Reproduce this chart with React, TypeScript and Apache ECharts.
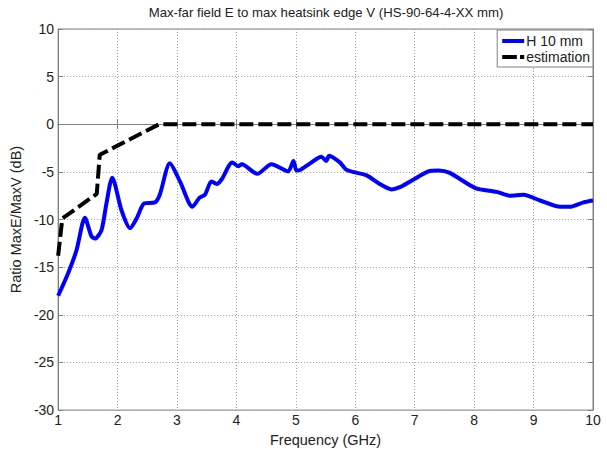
import React, { useEffect, useRef } from "react";
import * as echarts from "echarts";

const titleText = "Max-far field E to max heatsink edge V (HS-90-64-4-XX mm)";
const xName = "Frequency (GHz)";
const yName = "Ratio MaxE/MaxV (dB)";
const seriesNames = ["H 10 mm", "estimation"];

const hFreq = [1, 1.17, 1.31, 1.45, 1.56, 1.62, 1.73, 1.81, 1.91, 2.07, 2.21, 2.32, 2.45, 2.63, 2.71, 2.88, 3.05, 3.26, 3.38, 3.47, 3.58, 3.67, 3.75, 3.93, 4.03, 4.09, 4.35, 4.59, 4.87, 4.96, 5.01, 5.07, 5.24, 5.43, 5.51, 5.56, 5.74, 5.86, 6.19, 6.42, 6.61, 6.75, 6.98, 7.23, 7.4, 7.59, 8.02, 8.38, 8.6, 8.83, 9.11, 9.45, 9.61, 9.84, 10];
const hValues = [-18, -15.6, -13.2, -9.8, -11.75, -12.0, -11.1, -8.4, -5.6, -9.1, -10.9, -9.9, -8.3, -8.2, -7.4, -4.1, -6.0, -8.66, -7.7, -7.4, -6.0, -6.26, -5.8, -4.0, -4.4, -4.2, -5.2, -4.2, -4.95, -3.85, -4.85, -4.8, -4.1, -3.4, -3.85, -3.3, -4.0, -4.8, -5.36, -6.3, -6.84, -6.6, -5.8, -4.95, -4.85, -5.1, -6.7, -7.1, -7.5, -7.4, -8.0, -8.66, -8.66, -8.2, -8.0];

const estFreq = [1, 1.07, 1.65, 1.7, 2.7, 10];
const estValues = [-13.8, -9.9, -7.3, -3.2, 0, 0];

const xTicks = [1, 2, 3, 4, 5, 6, 7, 8, 9, 10];
const yTicks = [-30, -25, -20, -15, -10, -5, 0, 5, 10];

const FONT = "'Liberation Sans', Arial, sans-serif";
const frame = "#808080";
const gridC = "#a0a0a0";
const textC = "#222222";

export default function App() {
  const ref = useRef<HTMLDivElement>(null);
  useEffect(() => {
    if (!ref.current) return;
    const chart = echarts.init(ref.current, undefined, { renderer: "svg" });
    const axisCommon = {
      type: "value" as const,
      axisLine: { show: true, lineStyle: { color: frame, width: 1 } },
      axisTick: { show: true, inside: true, length: 5, lineStyle: { color: frame } },
    };
    chart.setOption({
      animation: false,
      backgroundColor: "#ffffff",
      textStyle: { fontFamily: FONT },
      graphic: [
        {
          type: "text",
          x: 326,
          y: 12,
          style: {
            text: titleText,
            fontFamily: FONT,
            fontSize: 13.2,
            fill: textC,
            textAlign: "center",
            textVerticalAlign: "middle",
          },
        },
      ],
      grid: { left: 58, right: 14, top: 29, bottom: 36, show: true, borderColor: frame, borderWidth: 1 },
      legend: {
        top: 30,
        right: 14,
        orient: "vertical",
        backgroundColor: "#fff",
        borderColor: frame,
        borderWidth: 1,
        borderRadius: 0,
        padding: [4, 3, 3, 5],
        itemGap: 2,
        itemWidth: 22,
        itemHeight: 13,
        textStyle: { fontFamily: FONT, fontSize: 14, color: textC, padding: [0, 0, 0, -3] },
        data: [
          { name: seriesNames[0], icon: "path://M0,0h22v4h-22z", itemStyle: { color: "#0000ff" } },
          { name: seriesNames[1], icon: "path://M0,0h14v4h-14z M17,0h4v4h-4z", itemStyle: { color: "#000000" } },
        ],
      },
      xAxis: [
        {
          ...axisCommon,
          min: xTicks[0],
          max: xTicks[xTicks.length - 1],
          interval: 1,
          name: xName,
          nameLocation: "middle",
          nameGap: 19,
          nameTextStyle: { fontFamily: FONT, fontSize: 14.5, color: textC },
          axisLabel: { fontFamily: FONT, fontSize: 14, color: textC, margin: 3 },
          splitLine: { show: true, lineStyle: { color: gridC, type: [1, 2], width: 1 } },
        },
        {
          ...axisCommon,
          position: "top",
          min: xTicks[0],
          max: xTicks[xTicks.length - 1],
          interval: 1,
          axisLabel: { show: false },
          splitLine: { show: false },
        },
      ],
      yAxis: [
        {
          ...axisCommon,
          min: yTicks[0],
          max: yTicks[yTicks.length - 1],
          interval: 5,
          name: yName,
          nameLocation: "middle",
          nameGap: 33,
          nameTextStyle: { fontFamily: FONT, fontSize: 14.5, color: textC },
          axisLabel: { fontFamily: FONT, fontSize: 14, color: textC, margin: 4 },
          splitLine: { show: true, lineStyle: { color: gridC, type: [1, 2], width: 1 } },
        },
        {
          ...axisCommon,
          position: "right",
          min: yTicks[0],
          max: yTicks[yTicks.length - 1],
          interval: 5,
          axisLabel: { show: false },
          splitLine: { show: false },
        },
      ],
      series: [
        {
          name: seriesNames[0],
          type: "line",
          data: hFreq.map((f, i) => [f, hValues[i]]),
          symbol: "none",
          smooth: 0.25,
          lineStyle: { color: "#0000ff", width: 4 },
          itemStyle: { color: "#0000ff" },
          z: 3,
        },
        {
          name: seriesNames[1],
          type: "line",
          data: estFreq.map((f, i) => [f, estValues[i]]),
          symbol: "none",
          lineStyle: { color: "#000000", width: 4, type: [14, 5] },
          itemStyle: { color: "#000000" },
          z: 4,
        },
      ],
    });
    return () => chart.dispose();
  }, []);
  return <div ref={ref} style={{ width: 607, height: 452, position: "absolute", left: 0, top: 0 }} />;
}
